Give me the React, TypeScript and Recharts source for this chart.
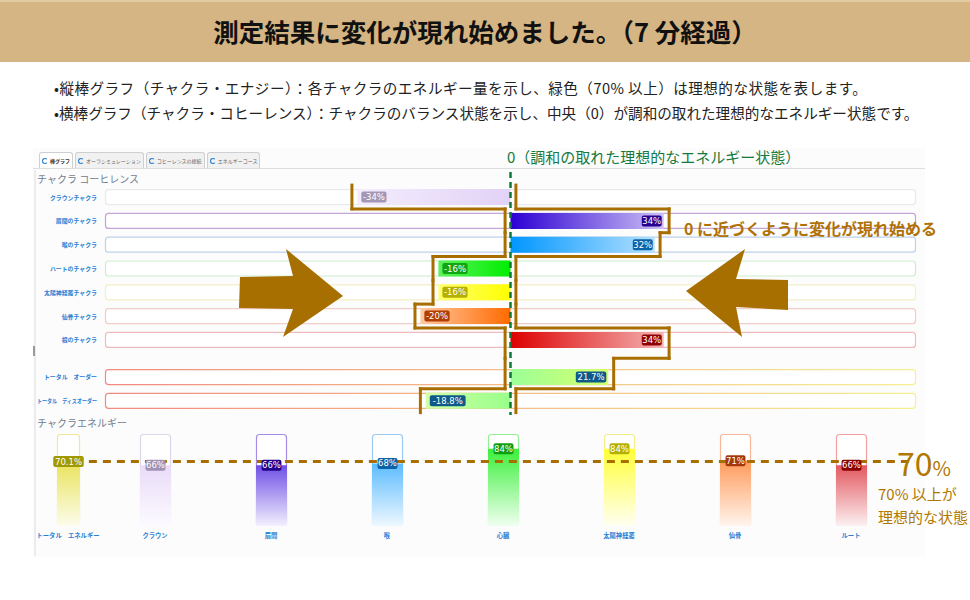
import React from "react";
import { BarChart, Bar, XAxis, YAxis, ReferenceLine, LabelList, Cell, ScatterChart } from "recharts";

// chakra coherence (horizontal bars)
const chakraLabels = [
  "クラウンチャクラ",
  "眉間のチャクラ",
  "喉のチャクラ",
  "ハートのチャクラ",
  "太陽神経叢チャクラ",
  "仙骨チャクラ",
  "根のチャクラ",
];
const chakraCoherence = [-34, 34, 32, -16, -16, -20, 34];
const totalLabels = ["トータル　オーダー", "トータル　ディスオーダー"];
const totalCoherence = [21.7, -18.8];

// chakra energy (vertical bars)
const energyLabels = ["トータル　エネルギー", "クラウン", "眉間", "喉", "心臓", "太陽神経叢", "仙骨", "ルート"];
const energyValues = [70.1, 66, 66, 68, 84, 84, 71, 66];

const idealLevel = 70;

// styles (coherence rows: 7 chakras then 2 totals)
const hStrong = ["#e2d2f7", "#2a00d4", "#0096ff", "#00ee00", "#ffff00", "#ff6a00", "#dd0000", "#9cff98", "#98ff8a"];
const hLight = ["#f3edfc", "#cdbff3", "#b5e1ff", "#5df25d", "#ffff70", "#ffc9a2", "#f3b3b3", "#d6ff6c", "#d2ffa6"];
const hTrack = ["#e9e9ef", "#c4a6d6", "#bcd2ea", "#cfeccf", "#f4eec6", "#f0cdc6", "#eebcbc", "url(#trk)", "url(#trk)"];
const hBadge = ["#a497b5", "#26008f", "#0a62a8", "#12a512", "#b5b000", "#b23d00", "#8f0000", "#0d5a8a", "#0d5a8a"];

const vTop = ["#e9e35a", "#e9dcf8", "#6f4fe6", "#5bbcff", "#3af03a", "#ffff38", "#ff9a5a", "#e2585f"];
const vBottom = ["#fcfcec", "#fcfaff", "#f3f0fe", "#eef8ff", "#f0fff0", "#fffff2", "#fff5ee", "#fcf0f2"];
const vTrack = ["#efe79a", "#ddd5e8", "#a58ae6", "#9cc8f2", "#95ef95", "#f4ee8a", "#f7b697", "#f1a0a0"];
const vBadge = ["#9f9a00", "#a093b3", "#230089", "#0b62a6", "#0f9e0f", "#b5b000", "#a5380a", "#8b0000"];

const BROWN = "#A86E00";
const JP = "'Noto Sans CJK JP', 'Noto Sans', sans-serif";
const PAD = 1.2;

// row layout of the coherence panel
const ROW = 23.8;
const GAP = 0.56; // space between chakra rows and total rows, in rows
const A_TOP = 170;
const A_PLOT_TOP = 185.1;
const B_TOP = 355;
const B_PLOT_TOP = A_PLOT_TOP + (chakraLabels.length + GAP) * ROW;
const LAST_ROW = chakraLabels.length + GAP + totalLabels.length;

const chakraData = chakraLabels.map((name, i) => ({ name, value: chakraCoherence[i] }));
const totalData = totalLabels.map((name, i) => ({ name, value: totalCoherence[i] }));
const energyData = energyLabels.map((name, i) => ({ name, value: energyValues[i], idx: i }));

// stepped outline around the bars, in data units (x = %, y = rows)
function envelope() {
  const rows = [
    ...chakraCoherence.map((v, i) => ({ v, c: i + 0.5 })),
    ...totalCoherence.map((v, i) => ({ v, c: chakraLabels.length + GAP + i + 0.5 })),
  ];
  const segs: { x: number; y: number }[][] = [];
  rows.forEach((r, k) => {
    const top = k === 0 ? 0 : (rows[k - 1].c + r.c) / 2;
    const bot = k === rows.length - 1 ? r.c + 0.5 : (r.c + rows[k + 1].c) / 2;
    const l = Math.min(r.v, 0) - PAD;
    const rt = Math.max(r.v, 0) + PAD;
    segs.push([{ x: l, y: top }, { x: l, y: bot }]);
    segs.push([{ x: rt, y: top }, { x: rt, y: bot }]);
    if (k < rows.length - 1) {
      const n = rows[k + 1].v;
      const nl = Math.min(n, 0) - PAD;
      const nr = Math.max(n, 0) + PAD;
      if (nl !== l) segs.push([{ x: l, y: bot }, { x: nl, y: bot }]);
      if (nr !== rt) segs.push([{ x: rt, y: bot }, { x: nr, y: bot }]);
    }
  });
  return segs;
}

const renderCoherenceTick = (p: any) => {
  const s = String(p.payload.value);
  const fit = s.length * 5.9 > 60;
  return (
    <text x={p.x} y={p.y} dy={2.5} textAnchor="end" fontSize={5.9} fontWeight={700} fill="#2b7fd4" fontFamily={JP}
      {...(fit ? { textLength: 60, lengthAdjust: "spacingAndGlyphs" } : {})}>
      {s}
    </text>
  );
};

const coherenceTrack = (offset: number) => (p: any) => {
  const i = p.index + offset;
  return (
    <rect key={`bg${i}`} x={p.x + 0.5} y={p.y + 0.5} width={p.width - 1} height={p.height - 1} rx={3}
      fill="#fff" stroke={hTrack[i]} strokeWidth={1.2} />
  );
};

const coherenceBadge = (offset: number) => (p: any) => {
  const { x, y, width, height, value, index } = p;
  if (value == null) return null;
  const i = index + offset;
  const left = Math.min(x, x + width);
  const right = Math.max(x, x + width);
  const txt = `${value}%`;
  const w = txt.length * 5.3 + 4;
  const h = 11;
  const bx = value < 0 ? left + 4 : right - w - 2;
  const cy = y + height / 2;
  return (
    <g key={`cb${i}`}>
      <rect x={bx} y={cy - h / 2} width={w} height={h} rx={2} fill={hBadge[i]} />
      <text x={bx + w / 2} y={cy} dy={3} textAnchor="middle" fontSize={8.5} fill="#fff" fontFamily="'DejaVu Sans', sans-serif">
        {txt}
      </text>
    </g>
  );
};

const energyTrack = (offset: number) => (p: any) => {
  const i = p.index + offset;
  return (
    <rect key={`vb${i}`} x={p.x + 0.5} y={p.y + 0.5} width={p.width - 1} height={p.height - 1} rx={3}
      fill="#fff" stroke={vTrack[i]} strokeWidth={1.2} />
  );
};

const energyBadge = (offset: number) => (p: any) => {
  const { x, y, width, value, index } = p;
  const i = index + offset;
  const txt = `${value}%`;
  const w = txt.length * 5.3 + 4;
  const h = 11;
  const cx = x + width / 2;
  return (
    <g key={`vl${i}`}>
      <rect x={cx - w / 2} y={y - h / 2} width={w} height={h} rx={2} fill={vBadge[i]} />
      <text x={cx} y={y} dy={3} textAnchor="middle" fontSize={8.5} fill="#fff" fontFamily="'DejaVu Sans', sans-serif">
        {txt}
      </text>
    </g>
  );
};

const energyTick = (p: any) => (
  <text x={p.x} y={p.y} dy={6} textAnchor="middle" fontSize={6.3} fontWeight={700} fill="#2b7fd4" fontFamily={JP}>
    {p.payload.value}
  </text>
);

const CoherenceDefs = ({ offset, values }: { offset: number; values: number[] }) => (
  <defs>
    {values.map((v, k) => {
      const i = k + offset;
      const neg = v < 0;
      return (
        <linearGradient key={i} id={`hg${i}`} x1="0" y1="0" x2="1" y2="0">
          <stop offset="0%" stopColor={neg ? hLight[i] : hStrong[i]} />
          <stop offset="100%" stopColor={neg ? hStrong[i] : hLight[i]} />
        </linearGradient>
      );
    })}
    <linearGradient id="trk" x1="0" y1="0" x2="1" y2="0">
      <stop offset="0%" stopColor="#f28a80" />
      <stop offset="100%" stopColor="#f6f090" />
    </linearGradient>
  </defs>
);

const EnergyDefs = () => (
  <defs>
    {energyLabels.map((_, i) => (
      <linearGradient key={i} id={`vg${i}`} x1="0" y1="0" x2="0" y2="1">
        <stop offset="0%" stopColor={vTop[i]} />
        <stop offset="100%" stopColor={vBottom[i]} />
      </linearGradient>
    ))}
  </defs>
);

const tabs = ["棒グラフ", "オーラシミュレーション", "コヒーレンスの接続", "エネルギーコース"];

export default function App() {
  const segs = envelope();
  const mainEnergy = energyData.slice(1);
  const totalEnergy = energyData.slice(0, 1);
  const aHeight = 250;
  const aPlotH = chakraLabels.length * ROW;
  const bHeight = 62;
  const bPlotH = totalLabels.length * ROW;
  const oPlotH = LAST_ROW * ROW;

  return (
    <div style={{ position: "absolute", left: 0, top: 0, width: 970, height: 600, background: "#fff", fontFamily: JP, overflow: "hidden" }}>
      {/* header band */}
      <div style={{ position: "absolute", left: 0, top: 0, width: 970, height: 62, background: "#D4B583", borderTop: "2px solid #e2cba3", boxSizing: "border-box" }}>
        <div style={{ textAlign: "center", fontSize: 25.5, fontWeight: 700, lineHeight: "58px", color: "#111" }}>
          測定結果に変化が現れ始めました。（7 分経過）
        </div>
      </div>

      <div style={{ position: "absolute", left: 54, top: 75, fontSize: 14.6, lineHeight: "25px", color: "#222", whiteSpace: "nowrap" }}>
        <div style={{ letterSpacing: 0.45 }}>•縦棒グラフ（チャクラ・エナジー）：各チャクラのエネルギー量を示し、緑色（70% 以上）は理想的な状態を表します。</div>
        <div>•横棒グラフ（チャクラ・コヒーレンス）：チャクラのバランス状態を示し、中央（0）が調和の取れた理想的なエネルギー状態です。</div>
      </div>

      {/* screenshot panel */}
      <div style={{ position: "absolute", left: 33, top: 148, width: 892, height: 409, background: "#fcfcfc" }} />
      <div style={{ position: "absolute", left: 33, top: 168, width: 892, height: 1, background: "#dedede" }} />
      <div style={{ position: "absolute", left: 34, top: 170, width: 2, height: 386, background: "#ececec" }} />
      <div style={{ position: "absolute", left: 33, top: 346, width: 2, height: 10, background: "#9a9a9a" }} />
      <div style={{ position: "absolute", left: 39, top: 152, display: "flex", gap: 2 }}>
        {tabs.map((t, i) => (
          <div key={t} style={{
            height: 16, boxSizing: "border-box", border: "1px solid #cfcfcf", borderBottom: "none",
            borderRadius: "3px 3px 0 0", background: i === 0 ? "#fff" : "#f1f1f1", fontSize: 5,
            lineHeight: "15px", padding: "0 2px", color: i === 0 ? "#333" : "#666", fontWeight: i === 0 ? 700 : 400,
            display: "flex", alignItems: "center", gap: 2, whiteSpace: "nowrap",
          }}>
            <span style={{ width: 4, height: 4, border: "1.5px solid #2a7fd4", borderRightColor: "transparent", borderRadius: "50%", display: "inline-block" }} />
            {t}
          </div>
        ))}
      </div>
      <div style={{ position: "absolute", left: 37, top: 171, fontSize: 10, color: "#717d8e" }}>チャクラ コーヒレンス</div>
      <div style={{ position: "absolute", left: 37, top: 415, fontSize: 10, color: "#717d8e" }}>チャクラエネルギー</div>

      {/* coherence: chakras */}
      <div style={{ position: "absolute", left: 33, top: A_TOP }}>
        <BarChart width={892} height={aHeight} data={chakraData} layout="vertical"
          margin={{ top: A_PLOT_TOP - A_TOP, right: 9, bottom: aHeight - (A_PLOT_TOP - A_TOP) - aPlotH, left: 0 }} barCategoryGap={0}>
          <CoherenceDefs offset={0} values={chakraCoherence} />
          <XAxis type="number" domain={[-90, 90]} allowDataOverflow hide />
          <YAxis type="category" dataKey="name" width={72} axisLine={false} tickLine={false}
            tickSize={0} tickMargin={8} interval={0} tick={renderCoherenceTick} />
          <Bar dataKey="value" barSize={16} isAnimationActive={false} background={coherenceTrack(0)}>
            {chakraData.map((_, i) => (
              <Cell key={i} fill={`url(#hg${i})`} />
            ))}
            <LabelList dataKey="value" content={coherenceBadge(0)} />
          </Bar>
        </BarChart>
      </div>

      {/* coherence: totals */}
      <div style={{ position: "absolute", left: 33, top: B_TOP }}>
        <BarChart width={892} height={bHeight} data={totalData} layout="vertical"
          margin={{ top: B_PLOT_TOP - B_TOP, right: 9, bottom: bHeight - (B_PLOT_TOP - B_TOP) - bPlotH, left: 0 }} barCategoryGap={0}>
          <CoherenceDefs offset={chakraLabels.length} values={totalCoherence} />
          <XAxis type="number" domain={[-90, 90]} allowDataOverflow hide />
          <YAxis type="category" dataKey="name" width={72} axisLine={false} tickLine={false}
            tickSize={0} tickMargin={8} interval={0} tick={renderCoherenceTick} />
          <Bar dataKey="value" barSize={16} isAnimationActive={false} background={coherenceTrack(chakraLabels.length)}>
            {totalData.map((_, k) => (
              <Cell key={k} fill={`url(#hg${k + chakraLabels.length})`} />
            ))}
            <LabelList dataKey="value" content={coherenceBadge(chakraLabels.length)} />
          </Bar>
        </BarChart>
      </div>

      {/* overlay: zero line and stepped outline across all coherence rows */}
      <div style={{ position: "absolute", left: 33, top: A_TOP }}>
        <ScatterChart width={892} height={aHeight}
          margin={{ top: A_PLOT_TOP - A_TOP, right: 9, bottom: aHeight - (A_PLOT_TOP - A_TOP) - oPlotH, left: 72 }}>
          <XAxis type="number" dataKey="x" domain={[-90, 90]} allowDataOverflow hide />
          <YAxis type="number" dataKey="y" domain={[0, LAST_ROW]} allowDataOverflow reversed hide />
          <ReferenceLine segment={[{ x: 0, y: -0.55 }, { x: 0, y: LAST_ROW + 0.1 }]}
            stroke="#0b7a3b" strokeWidth={2.5} strokeDasharray="6 4" ifOverflow="visible" />
          {segs.map((seg, i) => (
            <ReferenceLine key={i} segment={seg} stroke={BROWN} strokeWidth={3}
              strokeLinecap="square" ifOverflow="visible" />
          ))}
        </ScatterChart>
      </div>

      {/* energy: total */}
      <div style={{ position: "absolute", left: 33, top: 425 }}>
        <BarChart width={70} height={125} data={totalEnergy} margin={{ top: 9, right: 5, bottom: 0, left: 5 }}>
          <EnergyDefs />
          <XAxis dataKey="name" axisLine={false} tickLine={false} tickSize={4} tickMargin={2} height={24} interval={0} tick={energyTick} />
          <YAxis domain={[0, 100]} hide />
          <Bar dataKey="value" barSize={23} isAnimationActive={false} background={energyTrack(0)}>
            {totalEnergy.map((d) => (
              <Cell key={d.idx} fill={`url(#vg${d.idx})`} />
            ))}
            <LabelList dataKey="value" content={energyBadge(0)} />
          </Bar>
        </BarChart>
      </div>

      {/* energy: chakras */}
      <div style={{ position: "absolute", left: 85, top: 425 }}>
        <BarChart width={830} height={125} data={mainEnergy} margin={{ top: 9, right: 6, bottom: 0, left: 12 }} barCategoryGap={0}>
          <EnergyDefs />
          <XAxis dataKey="name" axisLine={false} tickLine={false} tickSize={4} tickMargin={2} height={24} interval={0} tick={energyTick} />
          <XAxis xAxisId="num" type="number" domain={[0, mainEnergy.length]} allowDataOverflow hide />
          <YAxis domain={[0, 100]} hide />
          <Bar dataKey="value" barSize={31} isAnimationActive={false} background={energyTrack(1)}>
            {mainEnergy.map((d) => (
              <Cell key={d.idx} fill={`url(#vg${d.idx})`} />
            ))}
            <LabelList dataKey="value" content={energyBadge(1)} />
          </Bar>
          <ReferenceLine xAxisId="num" segment={[{ x: -0.06, y: idealLevel }, { x: 6.8, y: idealLevel }]}
            stroke={BROWN} strokeWidth={3} strokeDasharray="8 6" ifOverflow="visible" />
        </BarChart>
      </div>

      {/* arrows */}
      <svg width={970} height={600} style={{ position: "absolute", left: 0, top: 0, pointerEvents: "none" }}>
        <polygon points="240,277 293,276 286,249 343,296 283,337 293,309 239,308" fill="#A66F00" />
        <polygon points="686,291 745,249 736,279 788,280 788,310 736,307 742,337" fill="#A66F00" />
      </svg>

      <div style={{ position: "absolute", left: 507, top: 146, fontSize: 15, lineHeight: "22px", color: "#167a3e", whiteSpace: "nowrap" }}>
        0（調和の取れた理想的なエネルギー状態）
      </div>
      <div style={{ position: "absolute", left: 684, top: 217, fontSize: 16, lineHeight: "22px", fontWeight: 700, color: "#B07105", whiteSpace: "nowrap" }}>
        0 に近づくように変化が現れ始める
      </div>
      <div style={{ position: "absolute", left: 897, top: 443, color: "#B07800", whiteSpace: "nowrap", lineHeight: "38px" }}>
        <span style={{ fontSize: 32 }}>70</span>
        <span style={{ fontSize: 20 }}>%</span>
      </div>
      <div style={{ position: "absolute", left: 878, top: 482, color: "#B07800", fontSize: 15, lineHeight: "23px", whiteSpace: "nowrap" }}>
        <div>70% 以上が</div>
        <div>理想的な状態</div>
      </div>
    </div>
  );
}
